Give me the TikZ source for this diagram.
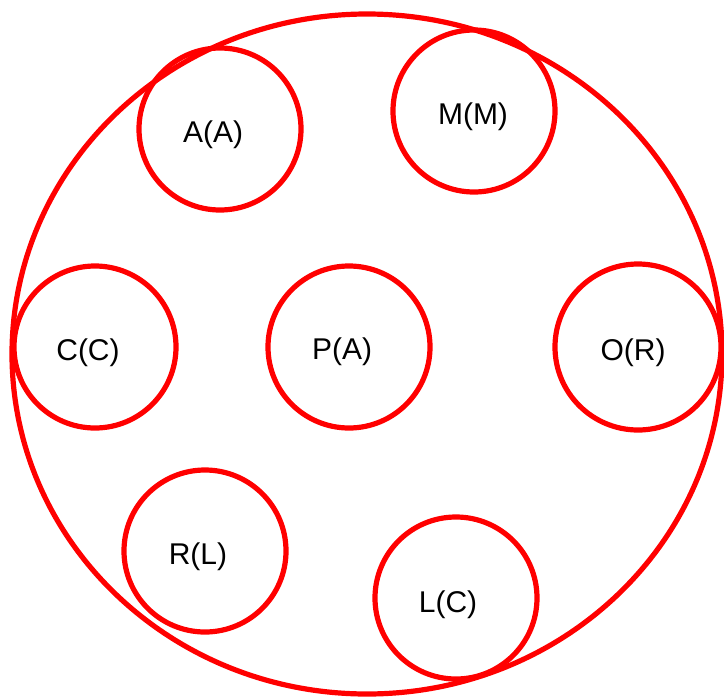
\documentclass[tikz,border=0pt]{standalone}
\usepackage{fontspec}
\setmainfont{Liberation Sans}
\usetikzlibrary{shapes.geometric}

\begin{document}
\begin{tikzpicture}[x=1pt, y=-1pt,
    ringnode/.style={circle, draw=red, line width=5.2pt, minimum size=162pt, inner sep=0pt},
    tagnode/.style={anchor=base, font=\fontsize{30}{35}\selectfont, inner sep=0pt}]

        \useasboundingbox (0,0) rectangle (724,697);

        \node[ellipse, draw=red, line width=5.2pt, minimum width=710pt, minimum height=680pt, inner sep=0pt] (world) at (367,354) {};

        \node[ringnode] (aa) at (220,129) {};
        \node[ringnode] (mm) at (474,111) {};
        \node[ringnode] (cc) at (95,347) {};
        \node[ringnode] (pa) at (349,347) {};
        \node[ringnode, minimum size=166pt] (or) at (638,347) {};
        \node[ringnode] (rl) at (205,551) {};
        \node[ringnode] (lc) at (456,598) {};

        \node[tagnode] (taa) at (213,142) {A(A)};
        \node[tagnode] (tmm) at (473,124) {M(M)};
        \node[tagnode] (tcc) at (88,360) {C(C)};
        \node[tagnode] (tpa) at (342,359) {P(A)};
        \node[tagnode] (tor) at (633,360) {O(R)};
        \node[tagnode] (trl) at (198,564) {R(L)};
        \node[tagnode] (tlc) at (448,612) {L(C)};

        \end{tikzpicture}
\end{document}
